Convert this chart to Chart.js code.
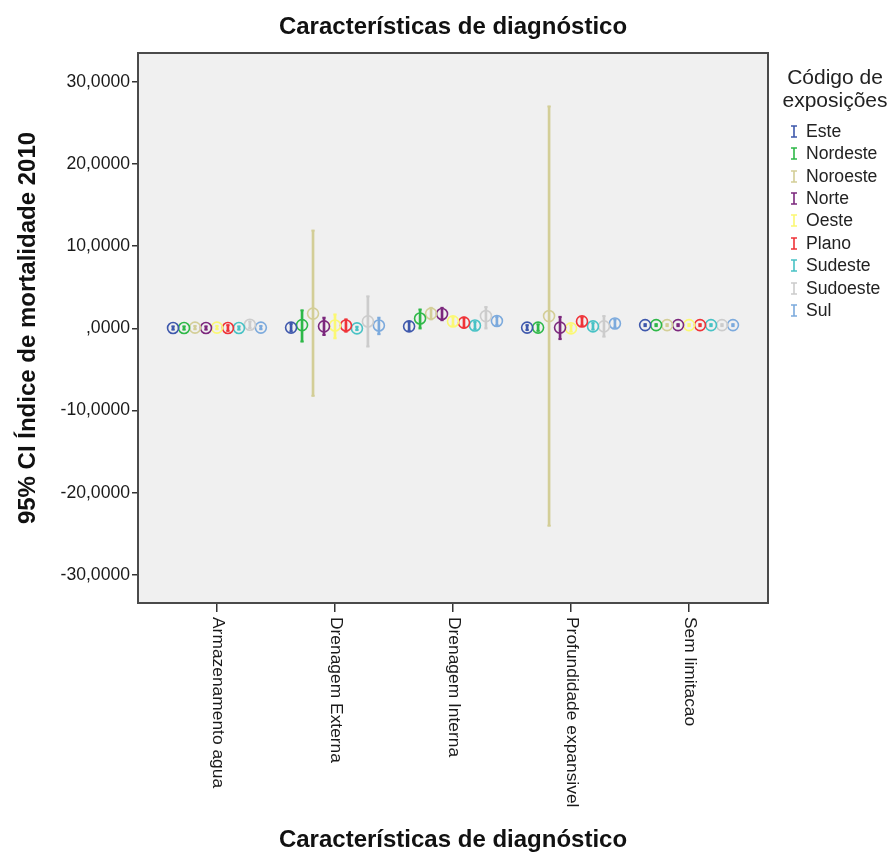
<!DOCTYPE html>
<html><head><meta charset="utf-8">
<script src="https://cdn.jsdelivr.net/npm/chart.js@4"></script>
<style>
html,body{margin:0;padding:0;background:#fff;}
#wrap{position:relative;width:891px;height:857px;overflow:hidden;}
#legend{position:absolute;left:779px;top:64.5px;width:112px;font-family:"Liberation Sans",Arial,sans-serif;color:#222;}
.lt{font-size:21px;line-height:23px;text-align:center;white-space:nowrap;}
.items{margin-top:9.3px;}
.it{position:relative;height:22.4px;line-height:22.4px;font-size:17.6px;padding-left:27px;white-space:nowrap;}
.it svg{position:absolute;left:11px;top:5px;}
</style></head>
<body><div id="wrap"><canvas id="c" width="891" height="857"></canvas>
<div id="legend"><div class="lt">Código de<br>exposições</div><div class="items" id="items"></div></div></div>
<script>
const categories = ['Armazenamento agua','Drenagem Externa','Drenagem Interna','Profundidade expansivel','Sem limitacao'];
const seriesNames = ['Este','Nordeste','Noroeste','Norte','Oeste','Plano','Sudeste','Sudoeste','Sul'];
const seriesColors = ['#3E58AC','#2EB848','#D3CE97','#7C287D','#FBF873','#EF3338','#48C2C5','#CCCCCC','#7CAADD'];
const yTickValues = [-30,-20,-10,0,10,20,30];
const yTickLabels = ['-30,0000','-20,0000','-10,0000',',0000','10,0000','20,0000','30,0000'];

// mean and 95% CI (low, high) per series, one value per category
const meanEste = [0.05, 0.1, 0.25, 0.1, 0.4];
const lowEste  = [-0.15, -0.35, -0.3, -0.2, 0.28];
const highEste = [0.25, 0.55, 0.8, 0.4, 0.52];
const meanNordeste = [0.05, 0.4, 1.2, 0.1, 0.4];
const lowNordeste  = [-0.15, -1.6, 0.0, -0.3, 0.28];
const highNordeste = [0.25, 2.2, 2.3, 0.5, 0.52];
const meanNoroeste = [0.1, 1.8, 1.8, 1.5, 0.4];
const lowNoroeste  = [-0.1, -8.2, 1.1, -24.0, 0.28];
const highNoroeste = [0.3, 11.9, 2.5, 27.0, 0.52];
const meanNorte = [0.05, 0.25, 1.75, 0.1, 0.4];
const lowNorte  = [-0.15, -0.8, 1.0, -1.3, 0.28];
const highNorte = [0.25, 1.3, 2.5, 1.4, 0.52];
const meanOeste = [0.1, 0.35, 0.85, 0.0, 0.4];
const lowOeste  = [-0.1, -1.2, 0.35, -0.4, 0.28];
const highOeste = [0.3, 1.7, 1.35, 0.4, 0.52];
const meanPlano = [0.05, 0.35, 0.7, 0.85, 0.4];
const lowPlano  = [-0.3, -0.4, 0.1, 0.35, 0.28];
const highPlano = [0.4, 1.1, 1.3, 1.35, 0.52];
const meanSudeste = [0.05, 0.0, 0.35, 0.25, 0.4];
const lowSudeste  = [-0.15, -0.2, -0.1, -0.15, 0.28];
const highSudeste = [0.25, 0.2, 0.8, 0.65, 0.52];
const meanSudoeste = [0.45, 0.85, 1.5, 0.25, 0.4];
const lowSudoeste  = [0.05, -2.2, 0.0, -1.0, 0.28];
const highSudoeste = [0.85, 3.9, 2.6, 1.5, 0.52];
const meanSul = [0.1, 0.35, 0.9, 0.6, 0.4];
const lowSul  = [-0.1, -0.7, 0.4, 0.1, 0.28];
const highSul = [0.3, 1.3, 1.4, 1.1, 0.52];

const means = [meanEste, meanNordeste, meanNoroeste, meanNorte, meanOeste, meanPlano, meanSudeste, meanSudoeste, meanSul];
const lows  = [lowEste, lowNordeste, lowNoroeste, lowNorte, lowOeste, lowPlano, lowSudeste, lowSudoeste, lowSul];
const highs = [highEste, highNordeste, highNoroeste, highNorte, highOeste, highPlano, highSudeste, highSudoeste, highSul];

const FONT = '"Liberation Sans", Arial, sans-serif';
const seriesStep = 0.093;

// legend
const itemsEl = document.getElementById('items');
seriesNames.forEach((n, s) => {
  const d = document.createElement('div');
  d.className = 'it';
  d.innerHTML = '<svg width="8" height="13"><path d="M1 1H7M4 1V12M1 12H7" stroke="' + seriesColors[s] + '" stroke-width="1.6" fill="none"/></svg>' + n;
  itemsEl.appendChild(d);
});

const datasets = [];
seriesNames.forEach((name, s) => {
  const xs = categories.map((_, c) => c + (s - 4) * seriesStep);
  datasets.push({
    type: 'bar', label: name,
    data: xs.map((x, c) => ({x: x, y: [lows[s][c], highs[s][c]]})),
    backgroundColor: seriesColors[s], borderWidth: 0, barThickness: 2, grouped: false, order: 3
  });
  datasets.push({
    type: 'scatter', label: name + ' caps',
    data: xs.map((x, c) => ({x: x, y: lows[s][c]})).concat(xs.map((x, c) => ({x: x, y: highs[s][c]}))),
    pointStyle: 'line', pointRadius: 1.6, pointBorderWidth: 2, borderColor: seriesColors[s], order: 2
  });
  datasets.push({
    type: 'scatter', label: name + ' mean',
    data: xs.map((x, c) => ({x: x, y: means[s][c]})),
    pointStyle: 'circle', pointRadius: 5.5, pointBorderWidth: 1.6,
    borderColor: seriesColors[s], backgroundColor: 'rgba(0,0,0,0)', order: 1
  });
});

const framePlugin = {
  id: 'frame',
  beforeDraw(chart) {
    const a = chart.chartArea, ctx = chart.ctx;
    ctx.save();
    ctx.fillStyle = '#F0F0F0';
    ctx.fillRect(a.left, a.top, a.right - a.left, a.bottom - a.top);
    ctx.restore();
  },
  afterDraw(chart) {
    const a = chart.chartArea, ctx = chart.ctx;
    ctx.save();
    ctx.strokeStyle = '#4a4a4a';
    ctx.lineWidth = 2;
    ctx.strokeRect(a.left, a.top, a.right - a.left, a.bottom - a.top);
    // x category labels, rotated clockwise
    const xs = chart.scales.x;
    ctx.fillStyle = '#1a1a1a';
    ctx.font = '17.4px ' + FONT;
    ctx.textAlign = 'left';
    ctx.textBaseline = 'middle';
    categories.forEach((lab, i) => {
      const px = xs.getPixelForValue(i);
      ctx.save();
      ctx.translate(px + 1, a.bottom + 14);
      ctx.rotate(Math.PI / 2);
      ctx.fillText(lab, 0, 0);
      ctx.restore();
    });
    ctx.restore();
  }
};

new Chart(document.getElementById('c'), {
  type: 'bar',
  data: {datasets: datasets},
  plugins: [framePlugin],
  options: {
    responsive: false, animation: false, events: [],
    layout: {padding: {left: 0, right: 123, top: 0, bottom: 0}},
    plugins: {
      legend: {display: false}, tooltip: {enabled: false},
      title: {display: true, fullSize: false, text: 'Características de diagnóstico',
        color: '#111', font: {family: FONT, size: 24, weight: 'bold'}, padding: {top: 12.6, bottom: 11.6}}
    },
    scales: {
      x: {
        type: 'linear', min: -0.669, max: 4.669, offset: false,
        afterBuildTicks: (sc) => { sc.ticks = categories.map((_, i) => ({value: i})); },
        afterFit: (sc) => { sc.height = 254; },
        ticks: {display: false},
        grid: {offset: false, drawOnChartArea: false, drawTicks: true, tickLength: 9, color: '#333', lineWidth: 1.5},
        border: {display: false},
        title: {display: true, text: 'Características de diagnóstico', color: '#111',
          font: {family: FONT, size: 24, weight: 'bold'}, padding: {top: 0, bottom: 2.6}}
      },
      y: {
        type: 'linear', min: -33.4, max: 33.5,
        afterBuildTicks: (sc) => { sc.ticks = yTickValues.map(v => ({value: v})); },
        afterFit: (sc) => { sc.width = 138; },
        ticks: {
          callback: (v) => yTickLabels[yTickValues.indexOf(v)],
          color: '#1a1a1a', font: {family: FONT, size: 17.6}, padding: 2
        },
        grid: {drawOnChartArea: false, drawTicks: true, tickLength: 6, color: '#333', lineWidth: 1.5},
        border: {display: false},
        title: {display: true, text: '95% CI Índice de mortalidade 2010', color: '#111',
          font: {family: FONT, size: 24, weight: 'bold'}, padding: {top: 13.6, bottom: 0}}
      }
    }
  }
});
</script></body></html>
